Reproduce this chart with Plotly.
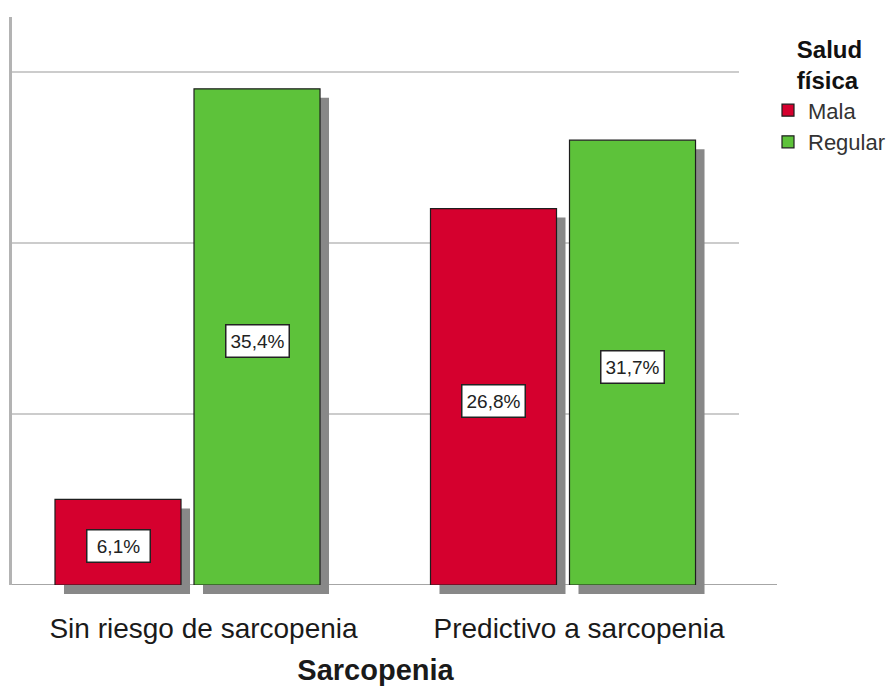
import plotly.graph_objects as go

# ---- data ----
categories = ["Sin riesgo de sarcopenia", "Predictivo a sarcopenia"]
series_names = ["Mala", "Regular"]
counts_mala = [5, 22]
counts_regular = [29, 26]
total_n = 82
legend_title = "Salud<br>física"
x_title = "Sarcopenia"

# ---- styling / geometry ----
W_FIG, H_FIG = 891, 686
M_L, M_R, M_T, M_B = 12, 114, 17, 90
PW = W_FIG - M_L - M_R          # plot area width
PH = H_FIG - M_T - M_B          # plot area height
MAIN_W = 727                    # width of main axes in px
SH = 9                          # shadow offset px
X_RANGE = [-0.4674, 1.4687]
Y_RANGE = [0, 33.2]
BAR_W = 0.3356
OFF_L = -0.3529
OFF_R = 0.0173
RED = "#D5002E"
GREEN = "#5DC23A"
SHADOW = "#888888"
FONT = "Liberation Sans, Arial, sans-serif"

px_per_unit = MAIN_W / (X_RANGE[1] - X_RANGE[0])

main_xdom = [0, MAIN_W / PW]
shadow_xdom = [SH / PW, (MAIN_W + SH) / PW]
main_ydom = [(SH + 2) / PH, 1]
shadow_ydom = [2 / PH, 1 - SH / PH]

fig = go.Figure()

# subplot 1: carries the grid and the y axis line
fig.add_trace(go.Scatter(x=[None], y=[None], mode="markers", showlegend=False,
                         hoverinfo="skip", xaxis="x", yaxis="y"))

series = [(series_names[0], counts_mala, RED, OFF_L),
          (series_names[1], counts_regular, GREEN, OFF_R)]

# shadows (subplot 2)
for name, vals, col, off in series:
    fig.add_trace(go.Bar(x=categories, y=vals, width=BAR_W, offset=off,
                         marker=dict(color=SHADOW, line=dict(width=0)),
                         showlegend=False, hoverinfo="skip",
                         xaxis="x2", yaxis="y2"))

# real bars (subplot 3)
for name, vals, col, off in series:
    fig.add_trace(go.Bar(x=categories, y=vals, width=BAR_W, offset=off, name=name,
                         marker=dict(color=col, line=dict(color="#1e1e1e", width=1.2)),
                         xaxis="x3", yaxis="y3"))

# labels
annotations = []
for name, vals, col, off in series:
    for cat, v in zip(categories, vals):
        pct = v / total_n * 100
        annotations.append(dict(
            x=cat, y=v / 2, xref="x3", yref="y3",
            xshift=(off + BAR_W / 2) * px_per_unit, yshift=-4,
            text=f"{pct:.1f}%".replace(".", ","), showarrow=False,
            font=dict(family=FONT, size=19, color="#222222"),
            width=58, height=27, align="center", valign="middle",
            bgcolor="white", bordercolor="#222222", borderwidth=1.5, borderpad=2))

fig.update_layout(
    width=W_FIG, height=H_FIG,
    margin=dict(l=M_L, r=M_R, t=M_T, b=M_B, autoexpand=False),
    paper_bgcolor="white", plot_bgcolor="rgba(0,0,0,0)",
    barmode="overlay",
    font=dict(family=FONT, color="#222222"),
    # subplot 1: grid + y axis line
    xaxis=dict(domain=main_xdom, range=X_RANGE, anchor="y", showgrid=False,
               zeroline=False, showticklabels=False, showline=False),
    yaxis=dict(domain=main_ydom, range=Y_RANGE, anchor="x", dtick=10, showgrid=True,
               gridcolor="#cccccc", gridwidth=1.5, zeroline=False,
               showticklabels=False, showline=True, linecolor="#b3b3b3", linewidth=3),
    # subplot 2: shadows
    xaxis2=dict(domain=shadow_xdom, range=X_RANGE, anchor="y2", type="category",
                visible=False),
    yaxis2=dict(domain=shadow_ydom, range=Y_RANGE, anchor="x2", visible=False),
    # subplot 3: bars
    xaxis3=dict(domain=main_xdom, range=X_RANGE, anchor="y3", type="category",
                showgrid=False, zeroline=False, showline=False, ticks="",
                ticklabelstandoff=24, ticklabelshift=16, automargin=False,
                tickfont=dict(family=FONT, size=28, color="#1a1a1a"),
                title=dict(text="<b>" + x_title + "</b>", standoff=21,
                           font=dict(family=FONT, size=29, color="#1a1a1a"))),
    yaxis3=dict(domain=main_ydom, range=Y_RANGE, anchor="x3", showgrid=False,
                zeroline=False, showticklabels=False, showline=False),
    legend=dict(x=(768 - M_L) / PW, y=1 - 10 / PH, xanchor="left", yanchor="top",
                title=dict(text="<b>" + legend_title + "</b>", side="top center",
                           font=dict(family=FONT, size=24, color="#111111")),
                font=dict(family=FONT, size=22, color="#333333"),
                itemwidth=30, tracegroupgap=0, bgcolor="rgba(0,0,0,0)"),
    annotations=annotations,
    shapes=[dict(type="line", xref="paper", yref="y3", x0=0, x1=1, y0=0, y1=0,
                 line=dict(color="#a6a6a6", width=2), layer="below")],
    showlegend=True,
)

# remove the default page margin so the figure sits at the window's top-left corner
fig.write_html("out.html", config={"displayModeBar": False},
               post_script="document.body.style.margin='0';")
